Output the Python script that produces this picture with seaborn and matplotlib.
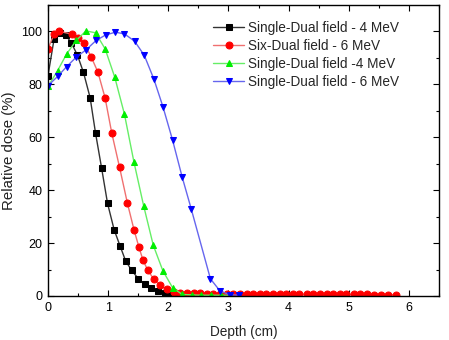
import matplotlib
matplotlib.use("Agg")
import matplotlib.pyplot as plt
import seaborn as sns
import pandas as pd
from matplotlib.ticker import MultipleLocator

sns.set_theme(style="white")
plt.rcParams['font.family'] = ['Liberation Sans', 'DejaVu Sans']

labels = ["Single-Dual field - 4 MeV", "Six-Dual field - 6 MeV",
          "Single-Dual field -4 MeV", "Single-Dual field - 6 MeV"]

black_x = [0.0, 0.1, 0.2, 0.3, 0.39, 0.49, 0.59, 0.7, 0.79, 0.89, 0.99, 1.1, 1.2,
           1.29, 1.39, 1.5, 1.61, 1.72, 1.83, 1.94, 2.05, 2.15]
black_y = [83.3, 97.0, 99.5, 98.5, 95.6, 91.0, 84.5, 75.0, 61.6, 48.5, 35.0, 25.0, 18.8,
           13.3, 9.7, 6.6, 4.4, 2.9, 1.9, 1.0, 0.5, 0.3]

red_x = [0.0, 0.1, 0.19, 0.4, 0.5, 0.6, 0.72, 0.83, 0.95, 1.06, 1.19, 1.32, 1.43, 1.51,
         1.58, 1.66, 1.76, 1.86, 1.97, 2.09,
         2.2, 2.31, 2.42, 2.53, 2.64, 2.75, 2.86, 2.97, 3.08, 3.19, 3.3, 3.41, 3.52, 3.63,
         3.74, 3.85, 3.96, 4.07, 4.18, 4.3, 4.41, 4.52, 4.63, 4.74, 4.85, 4.96, 5.08, 5.19,
         5.3, 5.42, 5.54, 5.66, 5.78]
red_y = [93.4, 99.0, 100.0, 99.0, 97.6, 95.6, 90.3, 84.6, 74.8, 61.6, 48.6, 35.1, 25.0, 18.6,
         13.5, 9.7, 6.3, 4.0, 2.5, 1.6,
         1.2, 1.1, 1.0, 1.0, 0.9, 0.9, 0.9, 0.8, 0.8, 0.8, 0.8, 0.8, 0.7, 0.7,
         0.7, 0.7, 0.7, 0.7, 0.7, 0.7, 0.6, 0.6, 0.6, 0.6, 0.6, 0.6, 0.6, 0.6,
         0.6, 0.5, 0.5, 0.5, 0.5]

green_x = [0.0, 0.16, 0.31, 0.47, 0.63, 0.79, 0.95, 1.11, 1.27, 1.43, 1.59, 1.75, 1.91,
           2.07, 2.23, 2.39, 2.55, 2.71, 2.87, 3.03]
green_y = [79.2, 85.2, 91.5, 96.6, 100.2, 99.5, 93.4, 82.7, 68.8, 50.5, 34.1, 19.2, 9.5,
           3.2, 0.6, 0.4, 0.3, 0.3, 0.3, 0.3]

blue_x = [0.0, 0.16, 0.31, 0.47, 0.63, 0.8, 0.96, 1.12, 1.27, 1.44, 1.6, 1.76, 1.91,
          2.07, 2.23, 2.38, 2.7, 2.86, 3.02, 3.17]
blue_y = [79.5, 83.0, 86.7, 90.3, 93.0, 96.6, 98.7, 99.7, 99.1, 96.3, 91.0, 82.0, 71.6,
          59.0, 45.0, 33.0, 6.5, 1.9, 0.5, 0.3]

series = [(black_x, black_y), (red_x, red_y), (green_x, green_y), (blue_x, blue_y)]
line_colors = ["#333333", "#f07070", "#66ee66", "#6666ee"]
marker_colors = ["#000000", "#ff0000", "#00ee00", "#0000ff"]
markers = ["s", "o", "^", "v"]

fig = plt.figure(figsize=(4.49, 3.40), dpi=100)
ax = fig.add_axes([48/449, 1 - 296/340, 391/449, 291/340])

for (xs, ys), lab, lc, mc, mk in zip(series, labels, line_colors, marker_colors, markers):
    df = pd.DataFrame({"x": xs, "y": ys})
    sns.lineplot(data=df, x="x", y="y", ax=ax, sort=False, estimator=None,
                 color=lc, linewidth=1.0, marker=mk, markersize=5,
                 markerfacecolor=mc, markeredgecolor=mc, label=lab)

ax.set_xlim(0, 6.5)
ax.set_ylim(0, 110)
ax.xaxis.set_major_locator(MultipleLocator(1))
ax.xaxis.set_minor_locator(MultipleLocator(0.5))
ax.yaxis.set_major_locator(MultipleLocator(20))
ax.yaxis.set_minor_locator(MultipleLocator(10))
ax.tick_params(which="both", direction="in", top=True, right=True, bottom=True, left=True,
               labelsize=9, colors="black", width=0.8)
ax.tick_params(which="major", length=4, pad=4)
ax.tick_params(which="minor", length=2.5)
for s in ax.spines.values():
    s.set_color("black")
    s.set_linewidth(1.0)

ax.set_xlabel("Depth (cm)", fontsize=9.8, color="#222222", labelpad=8)
ax.set_ylabel("Relative dose (%)", fontsize=10.8, color="#222222", labelpad=4)

leg = ax.legend(loc="upper left", bbox_to_anchor=(0.422, 0.945), frameon=False,
                fontsize=9.8, handlelength=2.3, handletextpad=0.3, labelspacing=0.3,
                borderpad=0, borderaxespad=0)

fig.savefig("out.png", dpi=100)
